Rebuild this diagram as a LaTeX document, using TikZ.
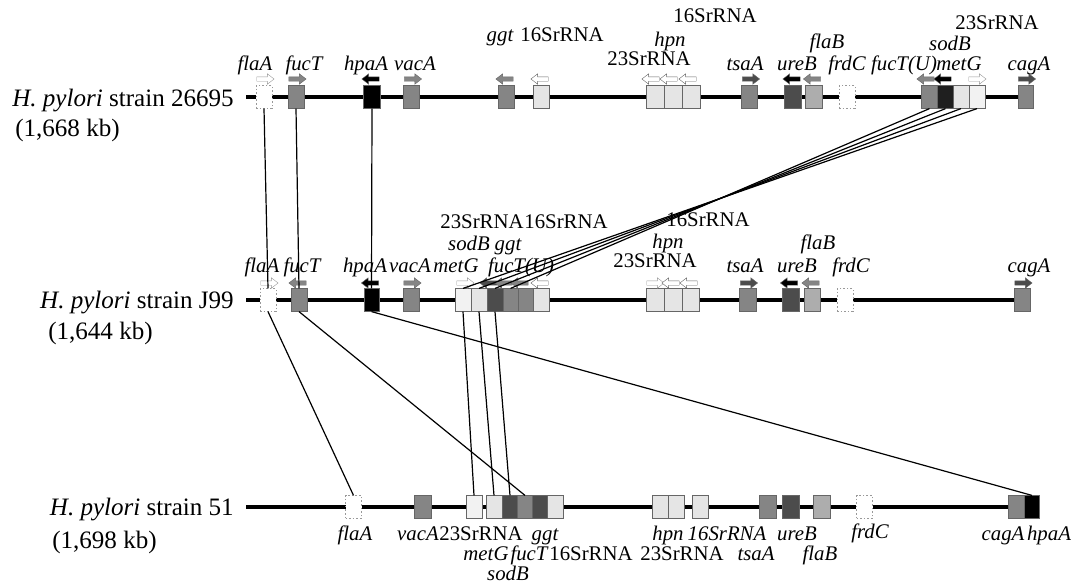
\documentclass[tikz,border=0pt]{standalone}
\usepackage{fontspec}
\setmainfont{Liberation Serif}
\usetikzlibrary{shapes.arrows,backgrounds}
\definecolor{gpale}{gray}{0.9}
\definecolor{gpaler}{gray}{0.95}
\definecolor{glight}{gray}{0.68}
\definecolor{gmid}{gray}{0.52}
\definecolor{gdark}{gray}{0.3}
\definecolor{gblk}{gray}{0.12}
\newcommand{\gfont}{\fontsize{15.6}{17}\selectfont}
\newcommand{\sfont}{\fontsize{18.8}{21}\selectfont}
\begin{document}
\begin{tikzpicture}[x=0.75pt,y=-0.75pt,
 gbox/.style={rectangle,draw=black!60,line width=0.4pt,minimum width=12pt,minimum height=17pt,inner sep=0pt},
 blank/.style={gbox,fill=white,draw=black!40,dash pattern=on 1.2pt off 1.5pt},
 arrR/.style={single arrow,draw=black!60,line width=0.3pt,minimum height=13pt,minimum width=7.5pt,
   inner sep=1.5pt,single arrow head extend=2.25pt,single arrow tip angle=75},
 arrL/.style={arrR,shape border rotate=180},
 gl/.style={font=\gfont\itshape,inner sep=0pt,anchor=base},
 rl/.style={font=\gfont,inner sep=0pt,anchor=base},
 strain/.style={font=\sfont,inner sep=0pt},
 backbone/.style={line width=2.4pt},
 link/.style={line width=0.9pt}]
\useasboundingbox (0,0) rectangle (1072,583);

% strain names
\node[strain,anchor=base east] (s1) at (234,106) {\textit{H. pylori} strain 26695};
\node[strain,anchor=base west] (k1) at (15,136) {(1,668 kb)};
\node[strain,anchor=base east] (s2) at (234,308) {\textit{H. pylori} strain J99};
\node[strain,anchor=base west] (k2) at (48,339) {(1,644 kb)};
\node[strain,anchor=base east] (s3) at (234,515) {\textit{H. pylori} strain 51};
\node[strain,anchor=base west] (k3) at (52,548) {(1,698 kb)};

% strain 26695
\coordinate (t0) at (246,97);
\node[blank] (t-flaA) at (264,97) {};
\node[blank] (t-frdC) at (847,97) {};
\foreach \n/\x/\c/\w in {fucT/296/gmid/12, hpaA/372/black/13, vacA/411.5/gmid/12,
  ggt/506/gmid/12, 16Sa/541/gpale/12, 23Sa/655/gpale/13.5, hpn/673/gpale/13.5,
  16Sb/691/gpale/13.5, tsaA/749.5/gmid/12, ureB/793/gdark/13, flaB/813.5/glight/13,
  fucTU/929.5/gmid/12.5, sodB/945.5/gblk/12, metG/961/gpale/12, 23Sb/977/gpaler/12,
  cagA/1025.5/gmid/11.5}
  \node[gbox,fill=\c,minimum width=\w pt] (t-\n) at (\x,97) {};
\foreach \x/\c [count=\i] in {296/gmid, 411.5/gmid, 749.5/gdark, 1025.5/gdark}
  \node[arrR,fill=\c] (tar\i) at (\x,79) {};
\node[arrR,fill=white,draw=black!40] (tar5) at (264,79) {};
\node[arrR,fill=white,draw=black!40] (tar6) at (976,79) {};
\foreach \x/\c [count=\i] in {372/black, 506/gmid, 541/white, 652/white, 670/white,
  689/white, 793/black, 813.5/gmid, 927/gmid, 944/black}
  \node[arrL,fill=\c] (tal\i) at (\x,79) {};
\foreach \x/\y/\t [count=\i] in {255/70/flaA, 304/70/fucT, 366/70/hpaA, 415/70/vacA,
  500/41/ggt, 670/46/hpn, 745/70/tsaA, 797/70/ureB, 827/48/flaB, 847/70/frdC,
  904/70/fucT(U), 959/70/metG, 950/50/sodB, 1029/70/cagA}
  \node[gl] (tg\i) at (\x,\y) {\t};
\foreach \x/\y/\t [count=\i] in {562/41/16SrRNA, 715/22/16SrRNA, 649/65/23SrRNA,
  997/29/23SrRNA}
  \node[rl] (tr\i) at (\x,\y) {\t};

% strain J99
\coordinate (m0) at (246,300);
\node[blank] (m-flaA) at (268,300) {};
\node[blank] (m-frdC) at (845,300) {};
\foreach \n/\x/\c/\w in {fucT/299/gmid/12, hpaA/371.5/black/11.5, vacA/411/gmid/12,
  23S/463/gpaler/12, metG/479/gpale/12, sodB/495/gdark/12, fucTU/510.5/gmid/11.5,
  ggt/525.5/gmid/11.5, 16S/541/gpale/12, 23Sb/655/gpale/13.5, hpn/673/gpale/13.5,
  16Sb/690.5/gpale/12.5, tsaA/747.5/gmid/12.5, ureB/790.5/gdark/12.5, flaB/812/glight/12,
  cagA/1022/gmid/12}
  \node[gbox,fill=\c,minimum width=\w pt] (m-\n) at (\x,300) {};
\foreach \x/\c [count=\i] in {411/gmid, 747.5/gdark, 1022/gdark}
  \node[arrR,fill=\c] (mar\i) at (\x,283) {};
\foreach \x [count=\i] in {268, 464, 654}
  \node[arrR,fill=white,draw=black!40] (maw\i) at (\x,283) {};
\foreach \x/\c [count=\i] in {299/gmid, 371.5/black, 490/gdark, 505/gmid, 521/gmid,
  541/white, 672/white, 690/white, 790.5/black, 812/gmid}
  \node[arrL,fill=\c] (mal\i) at (\x,283) {};
\foreach \x/\y/\t [count=\i] in {262/272/flaA, 302/272/fucT, 365/272/hpaA,
  410/272/vacA, 456/272/metG, 469/250/sodB, 508/250/ggt, 521/272/fucT(U),
  668/248/hpn, 745/272/tsaA, 797/272/ureB, 818/249/flaB, 851/272/frdC, 1029/272/cagA}
  \node[gl] (mg\i) at (\x,\y) {\t};
\foreach \x/\y/\t [count=\i] in {482/228/23SrRNA, 566/228/16SrRNA, 708/226/16SrRNA,
  655/267/23SrRNA}
  \node[rl] (mr\i) at (\x,\y) {\t};

% strain 51
\coordinate (b0) at (246,507);
\node[blank] (b-flaA) at (353.5,507) {};
\node[blank] (b-frdC) at (864.5,507) {};
\foreach \n/\x/\c/\w in {vacA/422.5/gmid/12.5, 23S/474/gpaler/12, metG/494/gpale/12,
  sodB/510/gdark/11.5, fucT/525/gmid/11, ggt/540/gdark/11.5, 16S/555/gpale/12,
  hpn/660/gpale/12, 23Sb/676/gpale/12, 16Sb/700/gpale/12, tsaA/768/gmid/13,
  ureB/790.5/gdark/12.5, flaB/821.5/glight/12.5, cagA/1016.5/gmid/12.5, hpaA/1032/black/11}
  \node[gbox,fill=\c,minimum width=\w pt] (b-\n) at (\x,507) {};
\foreach \x/\y/\t [count=\i] in {355/540/flaA, 418/540/vacA, 545/540/ggt,
  668/540/hpn, 727/540/16SrRNA, 797/540/ureB, 870/538/frdC, 1003/540/cagA,
  1049/540/hpaA, 486/560/metG, 529/560/fucT, 756/560/tsaA, 820/560/flaB, 508/580/sodB}
  \node[gl] (bg\i) at (\x,\y) {\t};
\foreach \x/\y/\t [count=\i] in {481/540/23SrRNA, 591/560/16SrRNA, 682/560/23SrRNA}
  \node[rl] (br\i) at (\x,\y) {\t};

% chromosomes
\begin{scope}[on background layer]
 \draw[backbone] (t0) -- (t-frdC) (t-frdC) -- (t-cagA.east);
 \draw[backbone] (m0) -- (m-frdC) (m-frdC) -- (m-cagA.east);
 \draw[backbone] (b0) -- (b-frdC) (b-frdC) -- (b-hpaA.east);
\end{scope}

% rearrangements
\draw[link] (t-flaA.south) -- (m-flaA.north);
\draw[link] (t-fucT.south) -- (m-fucT.north);
\draw[link] (t-hpaA.south) -- (m-hpaA.north);
\draw[link] (t-fucTU.south) -- (m-fucTU.north);
\draw[link] (t-sodB.south) -- (m-sodB.north);
\draw[link] (t-metG.south) -- (m-metG.north);
\draw[link] (t-23Sb.south) -- (m-23S.north);
\draw[link] (m-flaA.south) -- (b-flaA.north);
\draw[link] (m-fucT.south) -- (b-fucT.north);
\draw[link] (m-hpaA.south) -- (b-hpaA.north);
\draw[link] (m-23S.south) -- (b-23S.north);
\draw[link] (m-metG.south) -- (b-metG.north);
\draw[link] (m-sodB.south) -- (b-sodB.north);
\end{tikzpicture}
\end{document}
